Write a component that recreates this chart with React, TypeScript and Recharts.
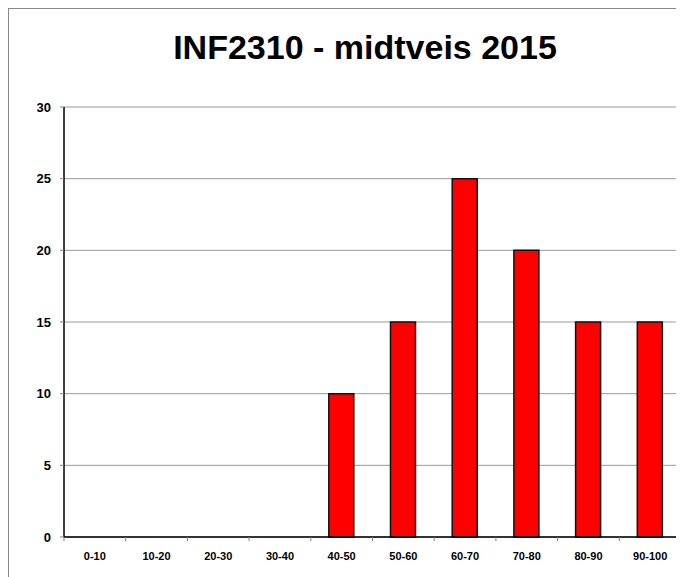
import React from "react";
import { BarChart, Bar, XAxis, YAxis, CartesianGrid } from "recharts";

const categories = ["0-10", "10-20", "20-30", "30-40", "40-50", "50-60", "60-70", "70-80", "80-90", "90-100"];
const counts = [0, 0, 0, 0, 10, 15, 25, 20, 15, 15];
const yTicks = [0, 5, 10, 15, 20, 25, 30];
const title = "INF2310 - midtveis 2015";

const data = categories.map((c, i) => ({ range: c, count: counts[i] }));

const FONT = "'Liberation Sans', Arial, sans-serif";
const CHART_W = 675;
const CHART_H = 568;
const PLOT_LEFT = 55;
const PLOT_RIGHT = 672;
const BAND = (PLOT_RIGHT - PLOT_LEFT) / categories.length;

const XTick = (props: any) => {
  const { x, y, payload, index } = props;
  const left = x - BAND / 2;
  return (
    <g>
      <line x1={left} x2={left} y1={y} y2={y + 4} stroke="#808080" />
      {index === categories.length - 1 && (
        <line x1={left + BAND} x2={left + BAND} y1={y} y2={y + 4} stroke="#808080" />
      )}
      <text x={x} y={y + 23} textAnchor="middle" fontFamily={FONT} fontWeight="bold" fontSize={11} fill="#000">
        {payload.value}
      </text>
    </g>
  );
};

export default function App() {
  return (
    <div
      style={{
        position: "relative",
        width: 676,
        height: 569,
        borderTop: "1px solid #888",
        borderLeft: "1px solid #888",
        boxSizing: "border-box",
        fontFamily: FONT,
      }}
    >
      <div
        style={{
          position: "absolute",
          left: 0,
          top: 19,
          width: 712,
          textAlign: "center",
          fontSize: 34,
          fontWeight: "bold",
          color: "#000",
          lineHeight: "38px",
        }}
      >
        {title}
      </div>
      <BarChart
        width={CHART_W}
        height={CHART_H}
        data={data}
        margin={{ top: 98, right: 3, left: 0, bottom: 0 }}
        barSize={25}
      >
        <CartesianGrid horizontal={true} vertical={false} stroke="#999" />
        <XAxis
          dataKey="range"
          height={40}
          axisLine={{ stroke: "#000", strokeWidth: 1.5 }}
          tickLine={false}
          tickSize={0}
          tickMargin={0}
          interval={0}
          tick={<XTick />}
        />
        <YAxis
          width={55}
          domain={[0, 30]}
          ticks={yTicks}
          interval={0}
          axisLine={{ stroke: "#000", strokeWidth: 1.5 }}
          tickLine={{ stroke: "#808080" }}
          tickSize={4}
          tickMargin={9}
          tick={{ fontFamily: FONT, fontWeight: "bold", fontSize: 13, fill: "#000" }}
        />
        <YAxis
          yAxisId="right"
          orientation="right"
          width={0}
          domain={[0, 30]}
          tick={false}
          tickLine={false}
          axisLine={{ stroke: "#888", strokeWidth: 2 }}
        />
        <Bar dataKey="count" fill="#FF0000" stroke="#111" strokeWidth={1.5} isAnimationActive={false} />
      </BarChart>
    </div>
  );
}
